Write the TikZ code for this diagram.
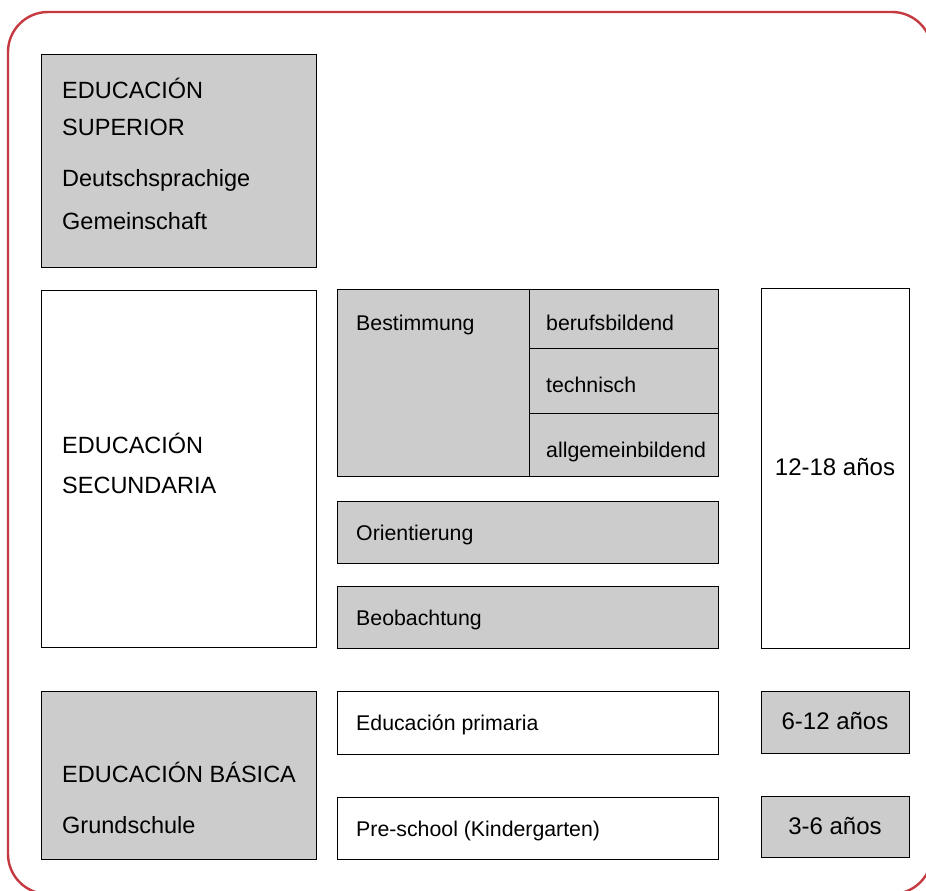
\documentclass[tikz,border=0pt]{standalone}
\usepackage{fontspec}
\setmainfont{Liberation Sans}
\usepackage{tikz}

\definecolor{framered}{HTML}{C43A40}
\definecolor{boxgray}{HTML}{CCCCCC}

\begin{document}
\begin{tikzpicture}[x=1pt,y=-1pt,
	box/.style={draw=black,line width=1pt},
	graybox/.style={box,fill=boxgray},
	bigtext/.style={anchor=base west,inner sep=0pt,font=\fontsize{23.5}{27}\selectfont},
	smalltext/.style={anchor=base west,inner sep=0pt,font=\fontsize{21.3}{25}\selectfont},
	agetext/.style={anchor=base,inner sep=0pt,font=\fontsize{24}{28}\selectfont}]
			\useasboundingbox (0,0) rectangle (926,891);
			\fill[white] (0,0) rectangle (926,891);
			\draw[framered,line width=2.4pt,rounded corners=40pt] (8,12) rectangle (932,894);
			
			% left column
			\draw[graybox] (41,55) rectangle (316,267);
			\node[bigtext] (sup1) at (62,99) {EDUCACIÓN};
			\node[bigtext] (sup2) at (62,135) {SUPERIOR};
			\node[bigtext] (sup3) at (62,186) {Deutschsprachige};
			\node[bigtext] (sup4) at (62,229) {Gemeinschaft};
			
			\draw[box] (41,290) rectangle (316,647);
			\node[bigtext] (sec1) at (62,453) {EDUCACIÓN};
			\node[bigtext] (sec2) at (62,493) {SECUNDARIA};
			
			\draw[graybox] (41,691) rectangle (316,859);
			\node[bigtext] (bas1) at (62,782) {EDUCACIÓN BÁSICA};
			\node[bigtext] (bas2) at (62,833) {Grundschule};
			
			% middle column
			\draw[graybox] (337,289) rectangle (718,476);
			\draw[box] (529,289) -- (529,476);
			\draw[box] (529,348) -- (718,348);
			\draw[box] (529,413) -- (718,413);
			\node[smalltext] (best) at (356,330) {Bestimmung};
			\node[smalltext] (beruf) at (546,330) {berufsbildend};
			\node[smalltext] (tech) at (546,392) {technisch};
			\node[smalltext] (allg) at (546,457) {allgemeinbildend};
			
			\draw[graybox] (337,501) rectangle (718,563);
			\node[smalltext] (orient) at (356,540) {Orientierung};
			
			\draw[graybox] (337,586) rectangle (718,648);
			\node[smalltext] (beob) at (356,625) {Beobachtung};
			
			\draw[box] (337,691) rectangle (718,754);
			\node[smalltext] (prim) at (356,730) {Educación primaria};
			
			\draw[box] (337,797) rectangle (718,859);
			\node[smalltext] (pre) at (356,836) {Pre-school (Kindergarten)};
			
			% right column
			\draw[box] (761,288) rectangle (909,648);
			\node[agetext] (age1) at (835,475) {12-18 años};
			
			\draw[graybox] (761,691) rectangle (909,753);
			\node[agetext] (age2) at (835,729) {6-12 años};
			
			\draw[graybox] (761,796) rectangle (909,857);
			\node[agetext] (age3) at (835,834) {3-6 años};
\end{tikzpicture}
\end{document}
